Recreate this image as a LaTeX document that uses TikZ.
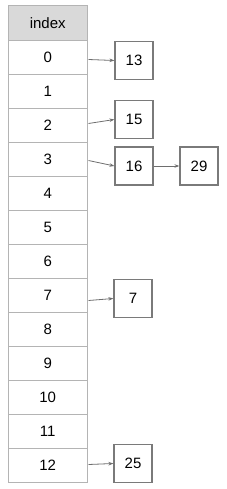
\documentclass[tikz,border=0pt]{standalone}
\usepackage{fontspec}
\setmainfont{Liberation Sans}
\usetikzlibrary{arrows.meta,calc}
\definecolor{tablegray}{HTML}{B4B4B4}
\definecolor{headfill}{HTML}{D9D9D9}
\definecolor{boxgray}{HTML}{7A7A7A}
\definecolor{arrgray}{HTML}{6E6E6E}
\begin{document}
\begin{tikzpicture}[x=1pt,y=-1pt,
  cell/.style={draw=tablegray, line width=1pt, minimum width=78.5pt, minimum height=34pt, inner sep=0pt, anchor=north west, font=\fontsize{15}{15}\selectfont},
  headcell/.style={cell, fill=headfill, minimum height=35pt},
  valbox/.style={draw=boxgray, line width=1.2pt, minimum width=38pt, minimum height=38pt, inner sep=0pt, font=\fontsize{15}{15}\selectfont},
  arr/.style={draw=arrgray, line width=0.8pt, -{Stealth[length=5pt,width=3.5pt]}}]
\useasboundingbox (0,0) rectangle (227,489);
\node[headcell] (h) at (8,5) {index};
\foreach \i in {0,...,12}{
  \node[cell] (c\i) at (8,40+34*\i) {\i};
}
\node[valbox] (b13) at (134,60.5) {13};
\node[valbox] (b15) at (134,119.5) {15};
\node[valbox] (b16) at (134,166) {16};
\node[valbox] (b29) at (199,166) {29};
\node[valbox] (b7) at (133,298.5) {7};
\node[valbox] (b25) at (133,463.5) {25};
\draw[arr] ($(c0.east)+(1,2)$) -- (b13.west);
\draw[arr] ($(c2.east)+(1,-2)$) -- (b15.west);
\draw[arr] ($(c3.east)+(1,1)$) -- (b16.west);
\draw[arr] ($(c7.east)+(1,5)$) -- (b7.west);
\draw[arr] ($(c12.east)+(1,-1)$) -- (b25.west);
\draw[arr] (b16.east) -- (b29.west);
\end{tikzpicture}
\end{document}
